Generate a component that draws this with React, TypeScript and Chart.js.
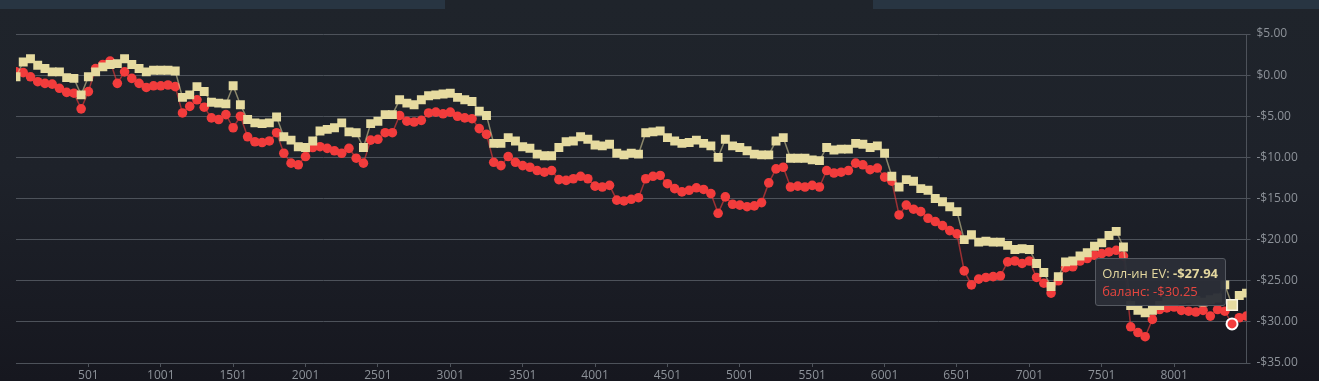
import React, { useEffect, useRef, useState } from 'react';
import { Chart, registerables } from 'chart.js';

Chart.register(...registerables);

// Sample spacing (hands between plotted samples)
const SAMPLE_STEP = 50;
const X_MIN = 1;
const X_MAX = 8501;

// Олл-ин EV (cumulative, $)
const evValues: number[] = [
  -0.2, 1.6, 2.0, 1.2, 0.8, 0.4, 0.4, -0.3, -0.4, -2.4,
  -0.2, 0.4, 1.0, 1.3, 1.4, 2.0, 1.3, 0.8, 0.4, 0.6,
  0.6, 0.6, 0.5, -2.7, -2.4, -1.4, -2.0, -3.3, -3.4, -3.5,
  -1.3, -3.6, -5.4, -5.8, -5.9, -5.8, -5.1, -7.5, -7.9, -8.7,
  -8.8, -8.0, -6.8, -6.6, -6.4, -5.8, -6.9, -7.0, -8.8, -5.9,
  -5.6, -4.8, -4.8, -3.0, -3.4, -3.6, -3.0, -2.5, -2.4, -2.3,
  -2.2, -2.7, -3.0, -3.2, -4.4, -4.9, -8.3, -8.3, -7.6, -8.0,
  -8.7, -8.9, -9.6, -9.8, -9.8, -8.8, -8.1, -8.0, -7.5, -7.8,
  -8.5, -8.6, -8.4, -9.5, -9.7, -9.5, -9.6, -7.0, -6.9, -6.8,
  -7.6, -8.0, -8.3, -8.2, -7.9, -8.3, -8.6, -10.0, -7.8, -8.6,
  -8.8, -9.2, -9.6, -9.7, -9.7, -8.0, -7.6, -10.1, -10.1, -10.1,
  -10.3, -10.4, -8.8, -9.1, -9.0, -9.0, -8.3, -8.4, -8.8, -8.6,
  -9.5, -12.3, -13.6, -12.7, -12.9, -13.8, -14.0, -15.0, -15.4, -16.0,
  -16.6, -20.0, -19.4, -20.3, -20.2, -20.3, -20.3, -20.7, -21.2, -21.1,
  -21.2, -22.9, -24.0, -25.7, -24.5, -22.7, -22.6, -22.0, -21.6, -20.8,
  -20.4, -19.5, -19.0, -20.9, -28.0, -28.6, -28.9, -28.6, -28.0, -27.5,
  -27.4, -27.3, -27.2, -27.4, -27.6, -27.3, -27.1, -25.5, -27.94, -26.8,
  -26.5,
];

// баланс (cumulative, $)
const balanceValues: number[] = [
  0.4, 0.3, -0.2, -0.8, -1.0, -1.1, -1.6, -2.1, -2.2, -4.1,
  -2.0, 0.8, 1.3, 1.7, -1.0, 0.4, -0.4, -1.0, -1.5, -1.3,
  -1.3, -1.2, -1.4, -4.6, -3.8, -3.0, -3.9, -5.2, -5.4, -4.8,
  -6.4, -5.0, -7.5, -8.1, -8.2, -8.0, -7.0, -9.5, -10.7, -10.9,
  -9.9, -8.8, -8.7, -8.9, -9.2, -9.5, -8.9, -10.1, -10.7, -7.9,
  -7.8, -7.0, -7.0, -4.9, -5.6, -5.7, -5.5, -4.6, -4.5, -4.7,
  -4.5, -5.0, -5.2, -5.3, -6.5, -7.2, -10.6, -11.0, -9.9, -10.6,
  -11.0, -11.2, -11.6, -11.8, -11.6, -12.7, -12.8, -12.6, -12.3, -12.6,
  -13.5, -13.6, -13.4, -15.2, -15.3, -15.1, -14.9, -12.6, -12.3, -12.2,
  -13.2, -13.8, -14.2, -14.0, -13.7, -13.9, -14.4, -16.8, -14.8, -15.7,
  -15.8, -16.0, -15.9, -15.5, -13.1, -11.4, -11.2, -13.6, -13.5, -13.6,
  -13.4, -13.6, -11.6, -11.9, -11.8, -11.6, -10.7, -10.9, -11.5, -11.3,
  -12.4, -12.9, -17.0, -15.8, -16.3, -16.6, -17.4, -17.8, -18.3, -18.9,
  -19.3, -23.8, -25.5, -24.8, -24.6, -24.5, -24.4, -22.7, -22.6, -22.9,
  -22.6, -24.6, -25.3, -26.5, -25.0, -23.4, -23.3, -22.6, -22.3, -21.9,
  -21.7, -21.5, -21.3, -22.0, -30.6, -31.3, -31.8, -29.7, -28.5, -28.3,
  -28.2, -28.6, -28.7, -28.8, -28.6, -29.3, -28.5, -28.7, -30.25, -29.5,
  -29.3,
];

const hands: number[] = evValues.map((_, i) => X_MIN + i * SAMPLE_STEP);

const xTickValues: number[] = [501, 1001, 1501, 2001, 2501, 3001, 3501, 4001, 4501, 5001, 5501, 6001, 6501, 7001, 7501, 8001];

const HOVER_INDEX = 168;
const SERIES_LABELS = ['Олл-ин EV', 'баланс'];

const FONT = "'Open Sans', 'DejaVu Sans', sans-serif";
const EV_COLOR = '#e6dba0';
const BAL_COLOR = '#f23c3c';
const GRID = '#4d525a';
const TICK = '#8d9299';

const fmtMoney = (v: number) => (v < 0 ? '-$' : '$') + Math.abs(v).toFixed(2);

export default function App() {
  const canvasRef = useRef<HTMLCanvasElement | null>(null);
  const [tip, setTip] = useState<{ x: number; y0: number; y1: number } | null>(null);

  useEffect(() => {
    const canvas = canvasRef.current;
    if (!canvas) return;
    const chart = new Chart(canvas, {
      type: 'line',
      data: {
        datasets: [
          {
            label: SERIES_LABELS[0],
            data: hands.map((h, i) => ({ x: h, y: evValues[i] })),
            borderColor: 'rgba(230,219,160,0.55)',
            backgroundColor: EV_COLOR,
            borderWidth: 1.5,
            pointStyle: 'rect',
            pointRadius: 6.3,
            pointBorderWidth: 0,
            pointBackgroundColor: EV_COLOR,
            pointHoverRadius: 7.5,
            pointHoverBackgroundColor: EV_COLOR,
            pointHoverBorderColor: '#f7f3e2',
            pointHoverBorderWidth: 1.5,
            tension: 0,
          },
          {
            label: SERIES_LABELS[1],
            data: hands.map((h, i) => ({ x: h, y: balanceValues[i] })),
            borderColor: 'rgba(242,60,60,0.6)',
            backgroundColor: BAL_COLOR,
            borderWidth: 1.5,
            pointStyle: 'circle',
            pointRadius: 4.8,
            pointBorderWidth: 0,
            pointBackgroundColor: BAL_COLOR,
            pointHoverRadius: 5.5,
            pointHoverBackgroundColor: BAL_COLOR,
            pointHoverBorderColor: '#ffffff',
            pointHoverBorderWidth: 2,
            tension: 0,
          },
        ],
      },
      options: {
        responsive: false,
        animation: false,
        devicePixelRatio: 1,
        events: [],
        layout: { padding: { top: 34, left: 16, right: 0, bottom: 0 } },
        plugins: {
          legend: { display: false },
          tooltip: { enabled: false },
        },
        scales: {
          x: {
            type: 'linear',
            min: X_MIN,
            max: X_MAX,
            grid: { display: true, drawOnChartArea: false, drawTicks: true, tickLength: 4, color: GRID },
            border: { display: true, color: GRID },
            ticks: {
              color: TICK,
              font: { family: FONT, size: 12 },
              padding: 1,
              maxRotation: 0,
              autoSkip: false,
              callback: (v: any) => String(v),
            },
            afterBuildTicks: (s: any) => {
              s.ticks = xTickValues.map((v) => ({ value: v }));
            },
            afterFit: (s: any) => {
              s.height = 18;
            },
          },
          y: {
            position: 'right',
            min: -35,
            max: 5,
            grid: { color: GRID, tickLength: 4, drawTicks: true },
            border: { display: true, color: GRID },
            ticks: {
              stepSize: 5,
              color: TICK,
              font: { family: FONT, size: 12 },
              padding: 6,
              callback: (v: any) => fmtMoney(Number(v)),
            },
            afterFit: (s: any) => {
              s.width = 72.5;
            },
          },
        },
      },
    });

    const active = [
      { datasetIndex: 0, index: HOVER_INDEX },
      { datasetIndex: 1, index: HOVER_INDEX },
    ];
    chart.setActiveElements(active);
    chart.update();

    const p0 = chart.getDatasetMeta(0).data[HOVER_INDEX] as any;
    const p1 = chart.getDatasetMeta(1).data[HOVER_INDEX] as any;
    setTip({ x: p0.x, y0: p0.y, y1: p1.y });

    return () => {
      chart.destroy();
    };
  }, []);

  return (
    <div
      style={{
        position: 'fixed',
        left: 0,
        top: 0,
        width: 1319,
        height: 381,
        overflow: 'hidden',
        background: 'linear-gradient(to bottom, #1f242b 0%, #1e222a 45%, #16171f 100%)',
        fontFamily: FONT,
      }}
    >
      <div style={{ position: 'absolute', left: 0, top: 0, width: 445, height: 9, background: '#283542' }} />
      <div style={{ position: 'absolute', left: 873, top: 0, width: 446, height: 9, background: '#283542' }} />
      <canvas
        ref={canvasRef}
        width={1319}
        height={381}
        style={{ position: 'absolute', left: 0, top: 0, width: 1319, height: 381, display: 'block' }}
      />
      {tip && (
        <div
          style={{
            position: 'absolute',
            right: 1319 - (tip.x - 6),
            top: tip.y0 - 47,
            background: 'rgba(43,46,55,0.96)',
            border: '1px solid #555961',
            borderRadius: 3,
            padding: '5px 7px 5px 6px',
            fontSize: 13,
            lineHeight: '18px',
            whiteSpace: 'nowrap',
          }}
        >
          <div style={{ color: '#e3d79f' }}>
            {SERIES_LABELS[0]}: <b>{fmtMoney(evValues[HOVER_INDEX])}</b>
          </div>
          <div style={{ color: '#e8463f' }}>
            {SERIES_LABELS[1]}: {fmtMoney(balanceValues[HOVER_INDEX])}
          </div>
        </div>
      )}
    </div>
  );
}
